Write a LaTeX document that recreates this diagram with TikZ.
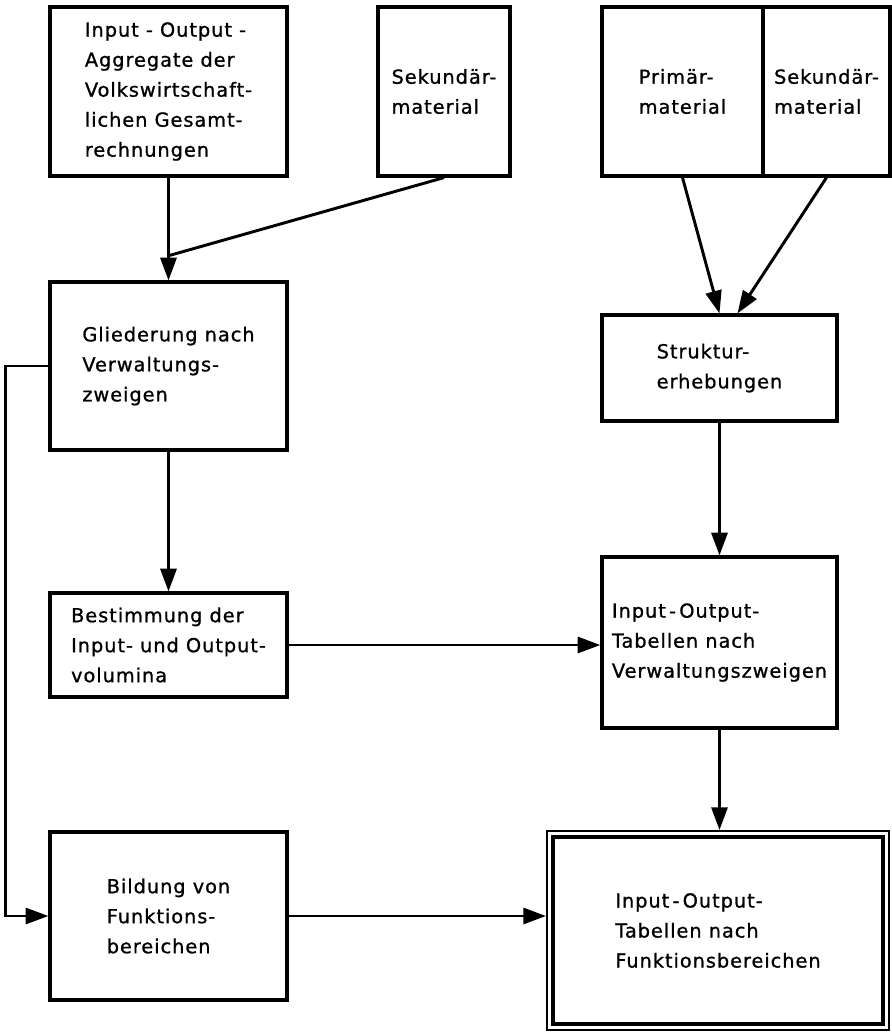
\documentclass[tikz,border=0pt]{standalone}
\usepackage{fontspec}
\setmainfont{DejaVu Sans}[LetterSpace=5,FakeBold=1]
\usetikzlibrary{arrows.meta,positioning,calc}

\begin{document}
\begin{tikzpicture}[x=0.75pt,y=-0.75pt,line width=2.2pt,>={Triangle[length=17pt,width=12pt]}]
\tikzstyle{box} = [draw, line width=2.4pt, align=left, inner sep=0pt, font=\fontsize{14.5}{22.5}\selectfont]
\useasboundingbox (0,0) rectangle (892,1032);
% sources
\node[box, minimum width=177.75pt, minimum height=126.75pt] (A) at (168.5,91.5) {Input - Output -\\Aggregate der\\Volkswirtschaft-\\lichen Gesamt-\\rechnungen};
\node[box, minimum width=99pt, minimum height=126.75pt] (B) at (444,91.5) {Sekundär-\\material};
\node[box, minimum width=120.75pt, minimum height=126.75pt] (C) at (682.5,91.5) {Primär-\\material};
\node[box, minimum width=95.25pt, minimum height=126.75pt] (D) at (826.5,91.5) {Sekundär-\\material};
% steps
\node[box, minimum width=177.75pt, minimum height=126pt] (E) at (168.5,366) {Gliederung nach\\Verwaltungs-\\zweigen};
\node[box, minimum width=176.25pt, minimum height=79.5pt] (F) at (719.5,368) {Struktur-\\erhebungen};
\node[box, minimum width=177.75pt, minimum height=78pt] (G) at (168.5,645) {Bestimmung der\\Input- und Output-\\volumina};
\node[box, minimum width=176.25pt, minimum height=128.25pt] (H) at (719.5,642.5) {Input\,-\,Output-\\Tabellen nach\\Verwaltungszweigen};
\node[box, minimum width=177.75pt, minimum height=126pt] (I) at (168.5,916) {Bildung von\\Funktions-\\bereichen};
% result
\node[box, line width=1.5pt, minimum width=256.5pt, minimum height=149.25pt] (J) at (718,930.5) {Input\,-\,Output-\\Tabellen nach\\Funktionsbereichen};
\draw[line width=3.6pt] ($(J.north west)+(7,7)$) rectangle ($(J.south east)+(-7,-7)$);

\coordinate (m) at ($(A.south)!0.76!(E.north)$);
\foreach \from/\to in {A/E, E/G, F/H}
\draw [->] (\from) -- (\to);
\draw (B.south) -- (m);
\draw [->] (C.south) -- (F.north);
\draw [->] (D.south) -- ($(F.north)+(18,0)$);
\draw [->] (H.south) -- (H.south |- J.north);
\draw [->] (G.east) -- (G.east -| H.west);
\draw [->] (E.west) -- ++(-43,0) |- (I.west);
\draw [->] (I.east) -- (I.east -| J.west);
\end{tikzpicture}
\end{document}
